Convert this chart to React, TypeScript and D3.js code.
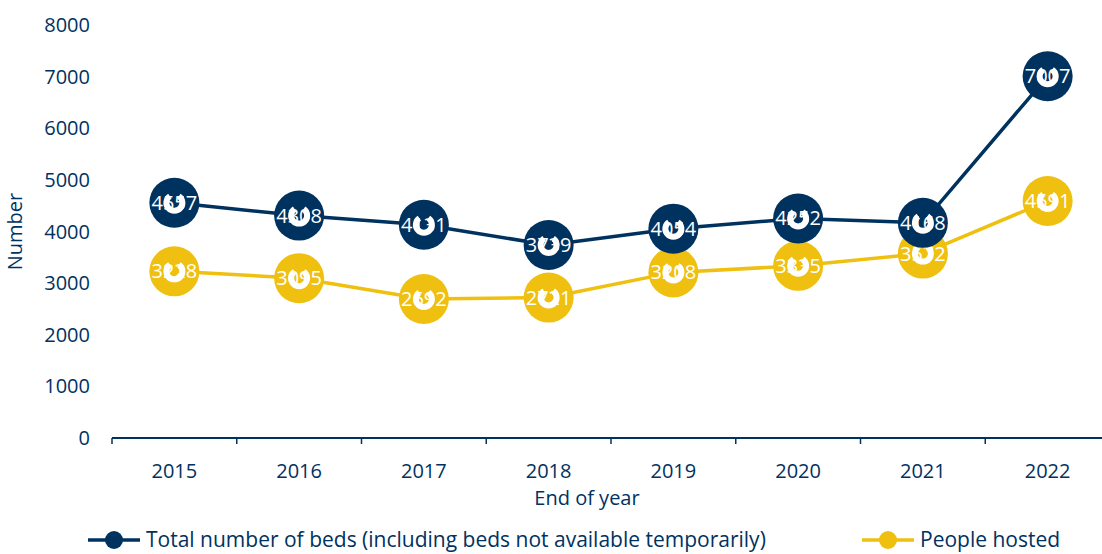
import React from "react";
import * as d3 from "d3";

const years = ["2015", "2016", "2017", "2018", "2019", "2020", "2021", "2022"];
const beds = [4557, 4308, 4131, 3739, 4054, 4252, 4168, 7007];
const hosted = [3228, 3095, 2692, 2721, 3208, 3335, 3572, 4591];
const yTicks = [0, 1000, 2000, 3000, 4000, 5000, 6000, 7000, 8000];
const seriesNames = ["Total number of beds (including beds not available temporarily)", "People hosted"];

const NAVY = "#00325F";
const GOLD = "#EFC00F";
const FONT = "'Open Sans', 'Noto Sans', sans-serif";

export default function App() {
  const W = 1102, H = 554;
  const x = d3.scaleBand<string>().domain(years).range([112, 1110]);
  const y = d3.scaleLinear().domain([0, 8000]).range([438, 25]);
  const cx = (d: string) => (x(d) as number) + x.bandwidth() / 2;
  const line = d3.line<number>().x((_, i) => cx(years[i])).y((v) => y(v));
  const arc = d3.arc()({ innerRadius: 5, outerRadius: 11, startAngle: 0.6, endAngle: Math.PI * 2 - 0.6 } as any) as string;

  const series = [
    { vals: hosted, color: GOLD },
    { vals: beds, color: NAVY },
  ];

  return (
    <svg width={W} height={H} style={{ position: "absolute", left: 0, top: 0, fontFamily: FONT }}>
      <rect width={W} height={H} fill="#fff" />
      {yTicks.map((t) => (
        <text key={t} x={90} y={y(t)} dy="0.35em" textAnchor="end" fontSize={20} fill={NAVY}>{t}</text>
      ))}
      <text transform={`translate(22,${y(4000)}) rotate(-90)`} textAnchor="middle" fontSize={20} fill={NAVY}>Number</text>
      <line x1={112} x2={1110} y1={y(0)} y2={y(0)} stroke={NAVY} strokeWidth={2} />
      {years.concat(["end"]).map((d, i) => {
        const xx = 112 + i * x.bandwidth();
        return <line key={d} x1={xx} x2={xx} y1={y(0)} y2={y(0) + 6} stroke={NAVY} strokeWidth={1.5} />;
      })}
      {years.map((d) => (
        <text key={d} x={cx(d)} y={471} dy="0.35em" textAnchor="middle" fontSize={20} fill={NAVY}>{d}</text>
      ))}
      <text x={587} y={498} dy="0.35em" textAnchor="middle" fontSize={20} fill={NAVY}>End of year</text>

      {[beds, hosted].map((vals, k) => (
        <path key={k} d={line(vals) as string} fill="none" stroke={k === 0 ? NAVY : GOLD} strokeWidth={3.5} />
      ))}
      {series.map((s, k) => (
        <g key={k}>
          {s.vals.map((v, i) => (
            <g key={i} transform={`translate(${cx(years[i])},${y(v)})`}>
              <circle r={25} fill={s.color} />
              <path d={arc} fill="#fff" />
              <text textAnchor="middle" dy="0.35em" fontSize={20} fill="#fff">{v}</text>
            </g>
          ))}
        </g>
      ))}

      <g transform="translate(0,540)">
        <line x1={88} x2={140} stroke={NAVY} strokeWidth={3.5} />
        <circle cx={114} r={9} fill={NAVY} />
        <text x={146} dy="0.35em" fontSize={21} fill={NAVY}>{seriesNames[0]}</text>
        <line x1={862} x2={914} stroke={GOLD} strokeWidth={3.5} />
        <circle cx={888} r={9} fill={GOLD} />
        <text x={920} dy="0.35em" fontSize={21} fill={NAVY}>{seriesNames[1]}</text>
      </g>
    </svg>
  );
}
